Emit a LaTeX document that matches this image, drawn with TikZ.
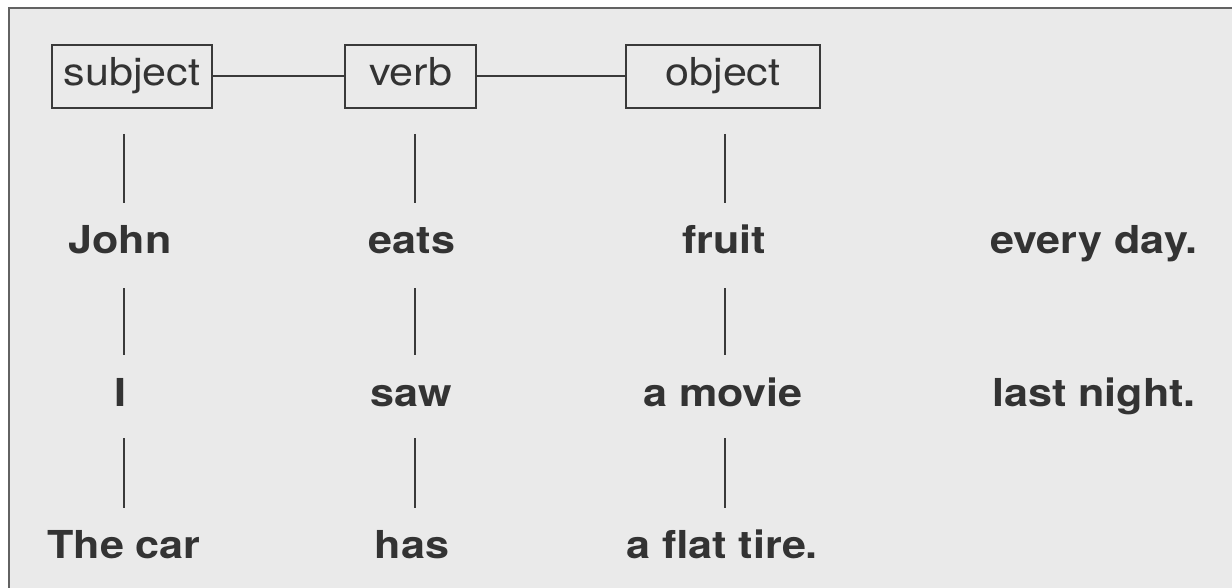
\documentclass[tikz,border=0pt]{standalone}
\usepackage{fontspec}
\setmainfont{TeX Gyre Heros}[FakeStretch=1.12]
\newfontfamily\boldface{TeX Gyre Heros Bold}[FakeStretch=1.12]
\begin{document}
\begin{tikzpicture}[x=1pt,y=-1pt]
\definecolor{ink}{HTML}{333333}
\definecolor{rule}{HTML}{3A3A3A}
\definecolor{paper}{HTML}{EAEAEA}
\definecolor{frame}{HTML}{626262}
\tikzset{
  label box/.style={draw=rule, line width=2pt, inner sep=0pt, minimum height=63pt,
    text height=28pt, text depth=9pt,
    text=ink, font=\fontsize{38.5}{40}\selectfont},
  word/.style={anchor=base, inner sep=0pt, text height=28pt, text depth=0pt,
    text=ink, font=\boldface\fontsize{38.5}{40}\selectfont},
  link/.style={draw=rule, line width=2pt},
  vline/.style={draw=rule, line width=2pt}
}
\useasboundingbox (0,0) rectangle (1232,588);
% page and frame
\fill[white] (0,0) rectangle (1232,588);
\fill[paper] (9,8) rectangle (1240,596);
\draw[frame, line width=2.5pt] (9,600) -- (9,8) -- (1240,8);

% role boxes
\node[label box, minimum width=160pt] (subj) at (132,76.5) {subject};
\node[label box, minimum width=131pt] (verb) at (410.5,76.5) {verb};
\node[label box, minimum width=194pt] (obj) at (723,76.5) {object};
\draw[link] (subj.east) -- (verb.west);
\draw[link] (verb.east) -- (obj.west);

% column positions of the vertical rules
\coordinate (c1) at (124,0);
\coordinate (c2) at (415,0);
\coordinate (c3) at (725,0);

% sentence words
\node[word] (john)  at (120,254) {John};
\node[word] (eats)  at (412,254) {eats};
\node[word] (fruit) at (724,254) {fruit};
\node[word] (every) at (1094,254) {every day.};

\node[word] (i)     at (120,406) {I};
\node[word] (saw)   at (411,406) {saw};
\node[word] (movie) at (723,406) {a movie};
\node[word] (last)  at (1094,406) {last night.};

\node[word] (car)   at (124,558) {The car};
\node[word] (has)   at (412,558) {has};
\node[word] (tire)  at (722,558) {a flat tire.};

% vertical rules between rows
\draw[vline, shorten <=25pt, shorten >=23pt] (subj.south -| c1) -- (john.north -| c1);
\draw[vline, shorten <=25pt, shorten >=23pt] (verb.south -| c2) -- (eats.north -| c2);
\draw[vline, shorten <=25pt, shorten >=23pt] (obj.south -| c3) -- (fruit.north -| c3);

\draw[vline, shorten <=34pt, shorten >=23pt] (john.south -| c1) -- (i.north -| c1);
\draw[vline, shorten <=34pt, shorten >=23pt] (eats.south -| c2) -- (saw.north -| c2);
\draw[vline, shorten <=34pt, shorten >=23pt] (fruit.south -| c3) -- (movie.north -| c3);

\draw[vline, shorten <=32pt, shorten >=22pt] (i.south -| c1) -- (car.north -| c1);
\draw[vline, shorten <=32pt, shorten >=22pt] (saw.south -| c2) -- (has.north -| c2);
\draw[vline, shorten <=32pt, shorten >=22pt] (movie.south -| c3) -- (tire.north -| c3);
\end{tikzpicture}
\end{document}
